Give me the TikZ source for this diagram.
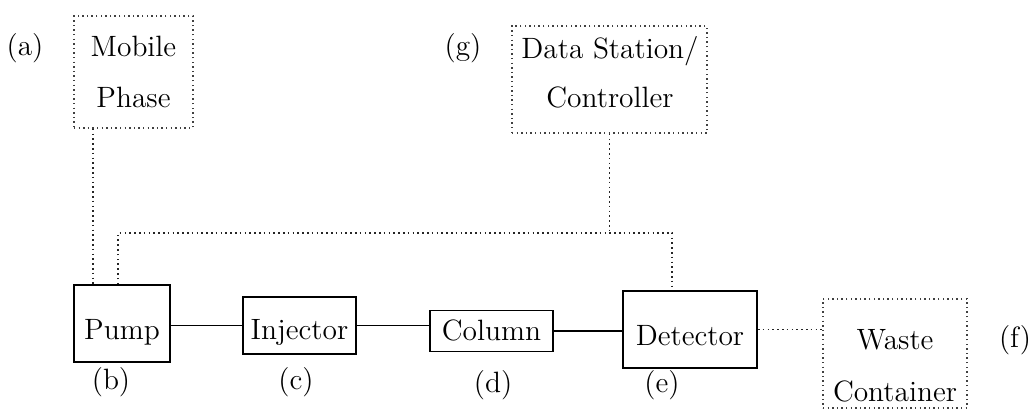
\documentclass[tikz,border=0pt]{standalone}
\usepackage{fontspec}
\begin{document}
\begin{tikzpicture}[x=0.5pt,y=-0.5pt,
  font={\fontsize{14.7}{25.5}\selectfont},
  unit/.style={draw,line width=0.9pt,inner sep=0pt,text height=17pt,text depth=1.5pt},
  store/.style={draw,black!75,line width=0.7pt,dash pattern=on 0.7pt off 1.6pt,inner sep=0pt,align=center,text=black},
  link/.style={black!85,line width=0.8pt,dash pattern=on 0.8pt off 1.6pt},
  pipe/.style={line width=0.9pt},
  tag/.style={inner sep=0pt}]
  \useasboundingbox (0,0) rectangle (1031,412);
  % storage and control
  \node[store,minimum width=59.5pt,minimum height=56pt] (mobile) at (133.5,72) {Mobile\\Phase};
  \node[store,minimum width=97.5pt,minimum height=53.5pt] (data) at (609.5,79.5) {};
  \node[tag,align=center,font={\fontsize{14.7}{24.5}\selectfont}] (datatxt) at (610,72.5) {Data Station/\\Controller};
  \node[store,minimum width=72pt,minimum height=54.5pt] (waste) at (895,353.5) {};
  \node[tag,align=center,font={\fontsize{14.7}{26}\selectfont}] (wastetxt) at (895,366) {Waste\\Container};
  % flow path
  \node[unit,minimum width=48pt,minimum height=38.5pt] (pump) at (122,323.5) {Pump};
  \node[unit,text height=15pt,minimum width=56.5pt,minimum height=28.5pt] (injector) at (299.5,325.5) {Injector};
  \node[unit,text height=10.5pt,minimum width=61.5pt,minimum height=20.5pt] (column) at (491.5,331) {Column};
  \node[unit,minimum width=67pt,minimum height=38.5pt] (detector) at (690,329.5) {Detector};
  % letters
  \node[tag] (la) at (25,48) {(a)};
  \node[tag] (lg) at (463,48) {(g)};
  \node[tag] (lb) at (111,382) {(b)};
  \node[tag] (lc) at (296,382) {(c)};
  \node[tag] (ld) at (493,385) {(d)};
  \node[tag] (le) at (662,385) {(e)};
  \node[tag] (lf) at (1015,340) {(f)};
  % connections
  \coordinate (feed) at (93,0);
  \coordinate (bus) at (118,233);
  \coordinate (det) at (672,0);
  \draw[link] (mobile.south -| feed) -- (pump.north -| feed);
  \draw[link] (pump.north -| bus) -- (bus) -- (bus -| det) -- (detector.north -| det);
  \draw[link] (data.south) -- (data.south |- bus);
  \draw[pipe] (pump.east |- injector) -- (injector.west);
  \draw[pipe] (injector.east) -- (injector.east -| column.west);
  \draw[pipe] (column.east) -- (column.east -| detector.west);
  \draw[link] (detector.east) -- (detector.east -| waste.west);
\end{tikzpicture}
\end{document}
